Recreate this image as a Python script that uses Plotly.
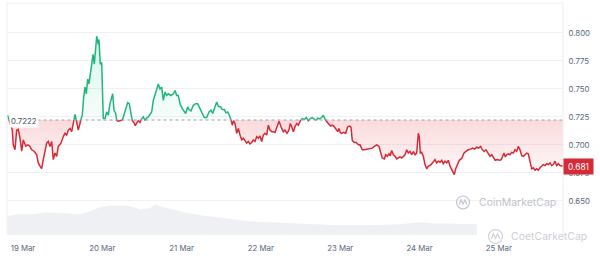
import plotly.graph_objects as go
import pandas as pd

# ---------------- data ----------------
START = pd.Timestamp("2024-03-19 00:00")
BASE_PRICE = 0.7222      # open price (reference line)
LAST_PRICE = 0.681       # current price

# hours since 19 Mar 00:00
hours = [
    -4.69, -3.24, -2.94, -2.42, -1.91, -1.42, -0.91, -0.39, 0.09, 0.82,
    1.42, 2.03, 2.63, 3.42, 4.15, 4.63, 5.15, 5.66, 6.14, 6.66,
    7.17, 7.66, 8.17, 8.69, 9.17, 9.68, 10.20, 10.68, 11.50, 12.20,
    12.71, 13.23, 13.71, 14.22, 14.74, 15.22, 15.74, 16.25, 16.74, 17.25,
    17.55, 17.95, 18.37, 18.76, 19.16, 19.58, 19.97, 20.37, 20.79, 21.19,
    21.58, 22.00, 22.31, 22.79, 23.00, 23.39, 23.82, 24.30, 24.82, 25.33,
    25.82, 26.33, 26.85, 27.15, 27.54, 28.06, 28.36, 28.84, 29.66, 30.05,
    30.48, 31.08, 31.69, 32.17, 32.60, 33.08, 33.59, 33.99, 34.41, 34.90,
    35.41, 35.93, 36.41, 36.92, 37.44, 37.92, 38.44, 38.95, 39.44, 39.95,
    40.47, 40.95, 41.46, 41.98, 42.46, 42.98, 43.49, 43.97, 44.79, 45.49,
    46.00, 46.52, 47.00, 47.52, 48.21, 48.82, 49.24, 49.85, 50.24, 50.85,
    51.54, 52.27, 52.87, 53.57, 54.27, 54.87, 55.60, 56.29, 56.90, 57.41,
    58.11, 58.62, 59.11, 59.83, 60.32, 60.92, 61.44, 61.95, 62.44, 62.95,
    63.35, 63.77, 64.16, 64.68, 65.16, 65.68, 66.19, 66.67, 67.19, 67.70,
    68.19, 68.70, 69.22, 69.70, 70.21, 70.73, 71.21, 71.73, 72.24, 72.73,
    73.24, 73.76, 74.24, 74.75, 75.27, 75.75, 76.27, 76.78, 77.48, 78.29,
    78.78, 79.29, 79.90, 80.50, 80.90, 81.32, 81.81, 82.32, 82.84, 83.32,
    83.83, 84.53, 85.14, 85.74, 86.35, 86.95, 87.56, 88.16, 88.77, 89.19,
    89.80, 90.40, 90.89, 91.40, 91.91, 92.40, 93.13, 93.73, 94.21, 94.73,
    95.24, 95.64, 96.03, 96.45, 97.06, 97.66, 98.27, 98.88, 99.27, 99.66,
    100.27, 100.87, 101.48, 101.99, 102.30, 102.69, 103.29, 104.02, 104.72, 105.72,
    106.32, 107.05, 107.74, 108.35, 108.74, 109.35, 109.77, 110.26, 110.77, 111.16,
    111.59, 112.07, 112.59, 113.10, 113.59, 114.10, 114.61, 115.10, 115.61, 116.13,
    116.61, 117.13, 117.64, 118.12, 118.64, 119.15, 119.46, 119.64, 119.94, 120.24,
    120.67, 121.15, 121.67, 122.18, 122.66, 123.18, 123.69, 124.18, 124.69, 125.21,
    125.69, 126.21, 126.72, 127.20, 127.72, 128.23, 128.72, 129.23, 129.75, 130.23,
    130.53, 130.96, 131.56, 132.05, 132.86, 133.47, 134.07, 134.77, 135.50, 136.10,
    136.71, 137.31, 137.92, 138.52, 138.92, 139.52, 140.13, 140.73, 141.34, 141.85,
    142.34, 142.94, 143.55, 144.15, 144.76, 145.18, 145.57, 145.97, 146.39, 146.88,
    147.39, 147.91, 148.39, 148.90, 149.42, 149.90, 150.42, 150.93, 151.42, 151.93,
    152.44, 152.93, 153.44, 153.96, 154.44, 154.96, 155.47, 155.96, 156.47, 156.98,
    157.47, 157.98, 158.50, 158.98, 159.50, 160.01, 160.50, 161.01, 161.52, 162.01,
    162.52, 163.43,
]

prices = [
    0.7265, 0.7132, 0.7000, 0.6956, 0.7130, 0.7138, 0.7060, 0.6944, 0.7044, 0.6988,
    0.7000, 0.6990, 0.6956, 0.6941, 0.6912, 0.6839, 0.6810, 0.6788, 0.6868, 0.6941,
    0.7015, 0.7030, 0.6986, 0.7030, 0.6868, 0.6927, 0.6898, 0.6986, 0.7015, 0.7074,
    0.7103, 0.7088, 0.7132, 0.7147, 0.7118, 0.7191, 0.7273, 0.7206, 0.7132, 0.7191,
    0.7235, 0.7265, 0.7427, 0.7515, 0.7456, 0.7588, 0.7544, 0.7632, 0.7691, 0.7809,
    0.7720, 0.7897, 0.7970, 0.7897, 0.7940, 0.7720, 0.7735, 0.7235, 0.7235, 0.7294,
    0.7265, 0.7368, 0.7412, 0.7456, 0.7309, 0.7280, 0.7218, 0.7212, 0.7215, 0.7218,
    0.7265, 0.7324, 0.7377, 0.7368, 0.7280, 0.7218, 0.7197, 0.7171, 0.7197, 0.7215,
    0.7200, 0.7235, 0.7250, 0.7218, 0.7242, 0.7250, 0.7273, 0.7294, 0.7397, 0.7441,
    0.7485, 0.7544, 0.7500, 0.7515, 0.7397, 0.7471, 0.7441, 0.7456, 0.7441, 0.7456,
    0.7485, 0.7441, 0.7441, 0.7368, 0.7324, 0.7294, 0.7280, 0.7339, 0.7315, 0.7303,
    0.7353, 0.7368, 0.7368, 0.7324, 0.7280, 0.7244, 0.7244, 0.7294, 0.7309, 0.7280,
    0.7339, 0.7383, 0.7344, 0.7339, 0.7315, 0.7315, 0.7286, 0.7294, 0.7265, 0.7225,
    0.7176, 0.7215, 0.7191, 0.7103, 0.7147, 0.7088, 0.7044, 0.7059, 0.7030, 0.7015,
    0.7030, 0.7009, 0.7021, 0.7044, 0.7030, 0.7074, 0.7059, 0.7079, 0.7030, 0.7088,
    0.7103, 0.7088, 0.7176, 0.7132, 0.7118, 0.7118, 0.7110, 0.7162, 0.7210, 0.7147,
    0.7118, 0.7132, 0.7103, 0.7132, 0.7191, 0.7162, 0.7118, 0.7162, 0.7191, 0.7176,
    0.7215, 0.7235, 0.7227, 0.7244, 0.7215, 0.7235, 0.7244, 0.7227, 0.7218, 0.7238,
    0.7233, 0.7244, 0.7265, 0.7227, 0.7206, 0.7191, 0.7168, 0.7176, 0.7162, 0.7138,
    0.7118, 0.7147, 0.7109, 0.7103, 0.7112, 0.7103, 0.7162, 0.7168, 0.7156, 0.7039,
    0.7021, 0.7021, 0.7000, 0.7000, 0.6971, 0.6956, 0.6956, 0.6962, 0.6965, 0.6971,
    0.6986, 0.7000, 0.6986, 0.6927, 0.6883, 0.6874, 0.6912, 0.6898, 0.6920, 0.6903,
    0.6950, 0.6912, 0.6898, 0.6874, 0.6883, 0.6892, 0.6883, 0.6898, 0.6912, 0.6956,
    0.6927, 0.6941, 0.6912, 0.6941, 0.6912, 0.6927, 0.7030, 0.7103, 0.7074, 0.6927,
    0.6933, 0.6898, 0.6824, 0.6786, 0.6810, 0.6815, 0.6830, 0.6845, 0.6868, 0.6839,
    0.6854, 0.6845, 0.6862, 0.6832, 0.6854, 0.6839, 0.6862, 0.6810, 0.6774, 0.6757,
    0.6735, 0.6786, 0.6839, 0.6862, 0.6883, 0.6927, 0.6941, 0.6956, 0.6962, 0.6971,
    0.6962, 0.6980, 0.6971, 0.6986, 0.6962, 0.6941, 0.6956, 0.6920, 0.6898, 0.6912,
    0.6883, 0.6862, 0.6868, 0.6862, 0.6868, 0.6898, 0.6927, 0.6892, 0.6912, 0.6920,
    0.6912, 0.6933, 0.6927, 0.6956, 0.6941, 0.6986, 0.6956, 0.6903, 0.6898, 0.6912,
    0.6927, 0.6920, 0.6839, 0.6786, 0.6795, 0.6774, 0.6786, 0.6774, 0.6795, 0.6810,
    0.6824, 0.6815, 0.6832, 0.6824, 0.6839, 0.6815, 0.6824, 0.6854, 0.6815, 0.6832,
    0.6815, 0.6810,
]

# trading volume (arbitrary units, millions)
vol_hours = [-4.69, -1.82, 3.03, 7.26, 13.32, 17.25, 20.28, 23.30, 26.33, 29.36,
             31.48, 35.41, 38.44, 39.95, 42.37, 45.40, 48.42, 53.57, 58.71, 63.56,
             68.70, 73.85, 83.83, 88.98, 93.82, 104.11, 114.10, 120.15, 124.09, 134.38,
             137.40]
vol_values = [38, 42, 42, 46, 44, 42, 48, 56, 60, 60,
              60, 52, 54, 62, 56, 52, 46, 40, 36, 32,
              28, 26, 24, 22, 20, 20, 22, 26, 24, 22,
              22]

x_tick_days = ["2024-03-19", "2024-03-20", "2024-03-21", "2024-03-22",
               "2024-03-23", "2024-03-24", "2024-03-25"]
x_tick_labels = ["19 Mar", "20 Mar", "21 Mar", "22 Mar", "23 Mar", "24 Mar", "25 Mar"]
y_ticks = [0.650, 0.675, 0.700, 0.725, 0.750, 0.775, 0.800]

X_RANGE_HOURS = [-4.84, 163.43]
Y_RANGE = [0.6195, 0.8267]
VOL_RANGE = [0, 470]

assert len(hours) == len(prices)

# ---------------- helpers ----------------
GREEN = "#1fb67c"
RED = "#d62a37"
FONT = "Inter"
W, H = 600, 256
ML, MR, MT, MB = 7, 37, 3, 18


def ts(h):
    return START + pd.Timedelta(hours=h)


# insert crossing points with the base line so colours switch exactly there
aug_h, aug_v = [], []
for i, (h, v) in enumerate(zip(hours, prices)):
    if i > 0:
        h0, v0 = hours[i - 1], prices[i - 1]
        if (v0 - BASE_PRICE) * (v - BASE_PRICE) < 0:
            f = (BASE_PRICE - v0) / (v - v0)
            aug_h.append(h0 + f * (h - h0))
            aug_v.append(BASE_PRICE)
    aug_h.append(h)
    aug_v.append(v)

aug_t = [ts(h) for h in aug_h]
green_line = [v if v >= BASE_PRICE else None for v in aug_v]
red_line = [v if v <= BASE_PRICE else None for v in aug_v]
green_fill = [max(v, BASE_PRICE) for v in aug_v]
red_fill = [min(v, BASE_PRICE) for v in aug_v]
base_arr = [BASE_PRICE] * len(aug_v)

fig = go.Figure()

# volume area
fig.add_trace(go.Scatter(
    x=[ts(h) for h in vol_hours], y=vol_values, yaxis="y2",
    mode="lines", line=dict(width=0, color="rgba(0,0,0,0)"),
    fill="tozeroy", fillcolor="#eef0f4", hoverinfo="skip", showlegend=False))

invisible = dict(width=0, color="rgba(0,0,0,0)")
fig.add_trace(go.Scatter(x=aug_t, y=base_arr, mode="lines", line=invisible,
                         hoverinfo="skip", showlegend=False))
fig.add_trace(go.Scatter(
    x=aug_t, y=green_fill, mode="lines", line=invisible, fill="tonexty",
    fillgradient=dict(type="vertical", start=BASE_PRICE, stop=max(prices),
                      colorscale=[[0, "rgba(22,199,132,0.03)"], [1, "rgba(22,199,132,0.17)"]]),
    hoverinfo="skip", showlegend=False))
fig.add_trace(go.Scatter(x=aug_t, y=base_arr, mode="lines", line=invisible,
                         hoverinfo="skip", showlegend=False))
fig.add_trace(go.Scatter(
    x=aug_t, y=red_fill, mode="lines", line=invisible, fill="tonexty",
    fillgradient=dict(type="vertical", start=min(prices), stop=BASE_PRICE,
                      colorscale=[[0, "rgba(234,57,67,0.03)"], [1, "rgba(234,57,67,0.18)"]]),
    hoverinfo="skip", showlegend=False))

fig.add_trace(go.Scatter(x=aug_t, y=red_line, mode="lines",
                         line=dict(color=RED, width=1.5), connectgaps=False,
                         hoverinfo="skip", showlegend=False))
fig.add_trace(go.Scatter(x=aug_t, y=green_line, mode="lines",
                         line=dict(color=GREEN, width=1.5), connectgaps=False,
                         hoverinfo="skip", showlegend=False))

# dotted base line
fig.add_shape(type="line", xref="x", yref="y",
              x0=ts(hours[0]), x1=ts(hours[-1]), y0=BASE_PRICE, y1=BASE_PRICE,
              line=dict(color="#9aa1ad", width=1, dash="dot"))

# frame lines (top, left, right)
frame = "#eceef2"
fig.add_shape(type="line", xref="paper", yref="paper", x0=0, x1=1, y0=1, y1=1,
              line=dict(color=frame, width=1))
fig.add_shape(type="line", xref="paper", yref="paper", x0=0, x1=0, y0=0, y1=1,
              line=dict(color=frame, width=1))
fig.add_shape(type="line", xref="paper", yref="paper", x0=1, x1=1, y0=0, y1=1,
              line=dict(color=frame, width=1))

# base price label
fig.add_annotation(x=ts(hours[0]), y=BASE_PRICE, xref="x", yref="y",
                   text=f"{BASE_PRICE:.4f}", showarrow=False,
                   xanchor="left", yanchor="middle", xshift=1, yshift=-1,
                   bgcolor="white", borderpad=1,
                   font=dict(family=FONT, size=7.8, color="#4a5263"))

# current price badge
fig.add_annotation(x=1, y=LAST_PRICE, xref="paper", yref="y",
                   text=f"{LAST_PRICE:.3f}", showarrow=False,
                   xanchor="left", yanchor="middle",
                   bgcolor=RED, width=27, height=13, borderpad=1,
                   font=dict(family=FONT, size=8.3, color="white"))

# watermarks
pw = W - ML - MR
ph = H - MT - MB


def px(xp):
    return (xp - ML) / pw


def py(yp):
    return (H - MB - yp) / ph


def logo(cx, cy, r, color):
    fig.add_shape(type="circle", xref="paper", yref="paper",
                  x0=px(cx - r), x1=px(cx + r), y0=py(cy + r), y1=py(cy - r),
                  line=dict(color=color, width=1.2))
    pts = [(cx - r * 0.6, cy + r * 0.35), (cx - r * 0.3, cy - r * 0.4),
           (cx, cy + r * 0.25), (cx + r * 0.3, cy - r * 0.4),
           (cx + r * 0.6, cy + r * 0.35)]
    path = "M " + " L ".join(f"{px(a):.5f},{py(b):.5f}" for a, b in pts)
    fig.add_shape(type="path", xref="paper", yref="paper", path=path,
                  line=dict(color=color, width=1.2))


logo(463, 205, 6.5, "#c4c8d0")
fig.add_annotation(x=px(477), y=py(205.5), xref="paper", yref="paper",
                   text="CoinMarketCap", showarrow=False, xanchor="left",
                   yanchor="middle", font=dict(family=FONT, size=10.5, color="#bfc3cb"))
logo(495.5, 239.5, 7.0, "#cfd2d8")
fig.add_annotation(x=px(509), y=py(240), xref="paper", yref="paper",
                   text="CoetCarketCap", showarrow=False, xanchor="left",
                   yanchor="middle", font=dict(family=FONT, size=10.5, color="#cdd0d6"))

fig.update_layout(
    width=W, height=H, margin=dict(l=ML, r=MR, t=MT, b=MB),
    paper_bgcolor="white", plot_bgcolor="white", showlegend=False,
    hovermode=False,
    xaxis=dict(range=[ts(X_RANGE_HOURS[0]), ts(X_RANGE_HOURS[1])],
               tickvals=[pd.Timestamp(d) for d in x_tick_days], ticktext=x_tick_labels,
               showgrid=False, zeroline=False, showline=False,
               ticks="outside", ticklen=6, tickcolor="rgba(0,0,0,0)",
               tickfont=dict(family=FONT, size=7.8, color="#58667e")),
    yaxis=dict(range=Y_RANGE, side="right", tickvals=y_ticks,
               ticktext=[f"{v:.3f}" for v in y_ticks],
               showgrid=True, gridcolor="#eff1f4", gridwidth=1, zeroline=False,
               ticks="outside", ticklen=3, tickcolor="rgba(0,0,0,0)",
               tickfont=dict(family=FONT, size=7.8, color="#58667e")),
    yaxis2=dict(range=VOL_RANGE, overlaying="y", side="left", visible=False,
                showgrid=False, zeroline=False),
)

fig.write_html("out.html")
